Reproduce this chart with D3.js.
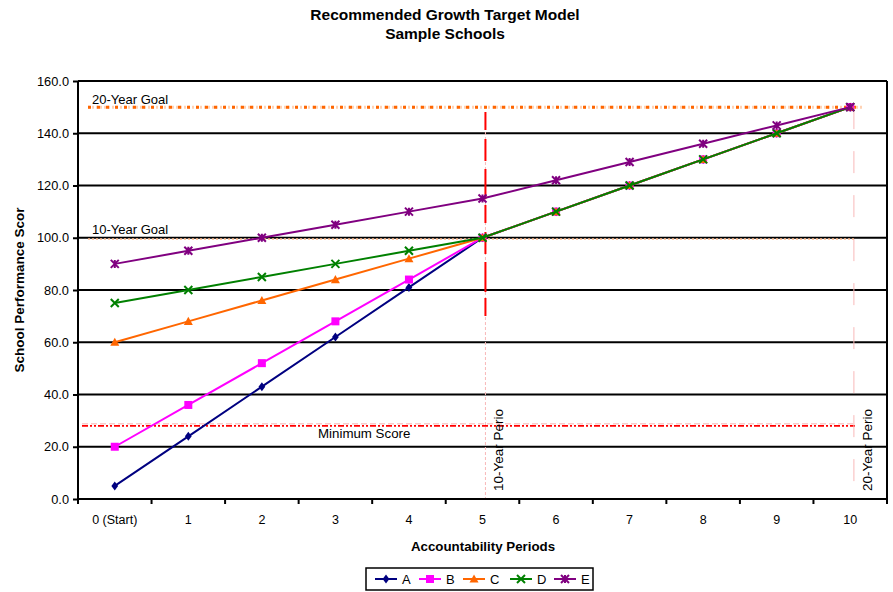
<!DOCTYPE html>
<html>
<head>
<meta charset="utf-8">
<script src="https://cdn.jsdelivr.net/npm/d3@7/dist/d3.min.js"></script>
<style>
  body { margin: 0; background: #fff; }
  svg { display: block; }
  svg text { font-family: "Liberation Sans", Arial, sans-serif; }
</style>
</head>
<body>
<svg id="chart" width="893" height="592" font-family="Liberation Sans, Arial, sans-serif"></svg>
<script>
// Accountability periods (x categories)
const categories = ["0 (Start)", "1", "2", "3", "4", "5", "6", "7", "8", "9", "10"];

// School performance scores per period
const seriesA = [5, 24, 43, 62, 81, 100, 110, 120, 130, 140, 150];
const seriesB = [20, 36, 52, 68, 84, 100, 110, 120, 130, 140, 150];
const seriesC = [60, 68, 76, 84, 92, 100, 110, 120, 130, 140, 150];
const seriesD = [75, 80, 85, 90, 95, 100, 110, 120, 130, 140, 150];
const seriesE = [90, 95, 100, 105, 110, 115, 122, 129, 136, 143, 150];

const seriesNames = ["A", "B", "C", "D", "E"];
const seriesColors = ["#000080", "#ff00ff", "#ff6600", "#008000", "#800080"];
const seriesSymbols = ["diamond", "square", "triangle", "x", "star"];

const yTicks = [0, 20, 40, 60, 80, 100, 120, 140, 160];

// Reference levels
const goal20 = 150, goal10 = 99.5, minimumScore = 28;
const period10 = 5.04, period20 = 10.05;

const svg = d3.select("#chart");
const L = 78, R = 887, T = 81, B = 499;
const FONT = "Liberation Sans, Arial, sans-serif";

const x = d3.scaleBand().domain(categories).range([L, R]).padding(0);
const cx = c => x(c) + x.bandwidth() / 2;
const xi = d3.scaleLinear().domain([0, 10]).range([cx(categories[0]), cx(categories[10])]);
const y = d3.scaleLinear().domain([0, 160]).range([B, T]);

// Title
svg.append("text").attr("x", 445).attr("y", 20).attr("text-anchor", "middle")
  .attr("font-size", 15.5).attr("font-weight", "bold").text("Recommended Growth Target Model");
svg.append("text").attr("x", 445).attr("y", 39).attr("text-anchor", "middle")
  .attr("font-size", 15.5).attr("font-weight", "bold").text("Sample Schools");

// Horizontal gridlines
svg.append("g").selectAll("line").data(yTicks.filter(d => d > 0)).join("line")
  .attr("x1", L).attr("x2", R).attr("y1", d => y(d)).attr("y2", d => y(d))
  .attr("stroke", "#000").attr("stroke-width", 2);

// Right border
svg.append("line").attr("x1", R).attr("x2", R).attr("y1", T).attr("y2", B)
  .attr("stroke", "#000").attr("stroke-width", 2);

// Goal lines
svg.append("line").attr("x1", 88).attr("x2", 862).attr("y1", y(goal20)).attr("y2", y(goal20))
  .attr("stroke", "#ffd2b4").attr("stroke-width", 3).attr("stroke-dasharray", "2,2");
svg.append("line").attr("x1", 88).attr("x2", 862).attr("y1", y(goal20)).attr("y2", y(goal20))
  .attr("stroke", "#ff6600").attr("stroke-width", 3).attr("stroke-dasharray", "3,6");
svg.append("line").attr("x1", 88).attr("x2", 855).attr("y1", y(goal10)).attr("y2", y(goal10))
  .attr("stroke", "#ffb98c").attr("stroke-width", 1.5).attr("stroke-dasharray", "2,2");

svg.append("text").attr("x", 92).attr("y", y(goal20) - 3).attr("font-size", 13).text("20-Year Goal");
svg.append("text").attr("x", 92).attr("y", y(goal10) - 5).attr("font-size", 13).text("10-Year Goal");

// Minimum score line
svg.append("line").attr("x1", 82).attr("x2", 855).attr("y1", y(minimumScore) - 2).attr("y2", y(minimumScore) - 2)
  .attr("stroke", "#f8b0b0").attr("stroke-width", 1).attr("stroke-dasharray", "6,3");
svg.append("line").attr("x1", 82).attr("x2", 855).attr("y1", y(minimumScore)).attr("y2", y(minimumScore))
  .attr("stroke", "#ff0000").attr("stroke-width", 1.6).attr("stroke-dasharray", "6,2,2,2,2,2");
svg.append("text").attr("x", 318).attr("y", y(minimumScore) + 12).attr("font-size", 13.3).text("Minimum Score");

// Period lines
svg.append("line").attr("x1", xi(period10)).attr("x2", xi(period10)).attr("y1", 112).attr("y2", B)
  .attr("stroke", "#f8b8b8").attr("stroke-width", 1).attr("stroke-dasharray", "3,2");
svg.append("line").attr("x1", xi(period10)).attr("x2", xi(period10)).attr("y1", 112).attr("y2", 318)
  .attr("stroke", "#ff0000").attr("stroke-width", 2).attr("stroke-dasharray", "18,9,22,8,30,6");
svg.append("line").attr("x1", xi(period20)).attr("x2", xi(period20)).attr("y1", y(goal20)).attr("y2", B)
  .attr("stroke", "#f8b8b8").attr("stroke-width", 1).attr("stroke-dasharray", "22,22");

svg.append("text").attr("transform", `translate(${xi(period10) + 18},491) rotate(-90)`)
  .attr("font-size", 13.5).text("10-Year Perio");
svg.append("text").attr("transform", `translate(${xi(period20) + 18},491) rotate(-90)`)
  .attr("font-size", 13.5).text("20-Year Perio");

// Axes
const yAxis = svg.append("g").attr("transform", `translate(${L},0)`)
  .call(d3.axisLeft(y).tickValues(yTicks).tickFormat(d3.format(".1f")).tickSize(5).tickPadding(4));
yAxis.attr("font-family", FONT);
yAxis.select(".domain").attr("stroke-width", 2).attr("d", `M0,${T}V${B}`);
yAxis.selectAll(".tick line").attr("stroke-width", 2);
yAxis.selectAll("text").attr("font-size", 12.8).attr("fill", "#000");

const xAxis = svg.append("g").attr("transform", `translate(0,${B})`)
  .call(d3.axisBottom(x).tickSize(0).tickPadding(16));
xAxis.attr("font-family", FONT);
xAxis.select(".domain").attr("stroke-width", 2).attr("d", `M${L},0H${R}`);
xAxis.selectAll("text").attr("font-size", 12.5).attr("fill", "#000");
// boundary ticks between categories
xAxis.append("g").selectAll("line").data(categories.concat([null])).join("line")
  .attr("x1", (d, i) => L + i * x.bandwidth()).attr("x2", (d, i) => L + i * x.bandwidth())
  .attr("y1", 0).attr("y2", 5).attr("stroke", "#000").attr("stroke-width", 2);

svg.append("text").attr("x", 483).attr("y", 551).attr("text-anchor", "middle")
  .attr("font-size", 13.3).attr("font-weight", "bold").text("Accountability Periods");
svg.append("text").attr("transform", `translate(24,290) rotate(-90)`).attr("text-anchor", "middle")
  .attr("font-size", 13.5).attr("font-weight", "bold").text("School Performance Scor");

// Marker drawing
function marker(g, sym, color, size) {
  const s = size;
  if (sym === "diamond") {
    g.append("path").attr("d", `M0,${-s}L${s * 0.75},0L0,${s}L${-s * 0.75},0Z`).attr("fill", color);
  } else if (sym === "square") {
    g.append("rect").attr("x", -s).attr("y", -s).attr("width", 2 * s).attr("height", 2 * s).attr("fill", color);
  } else if (sym === "triangle") {
    g.append("path").attr("d", `M0,${-s}L${s},${s * 0.8}L${-s},${s * 0.8}Z`).attr("fill", color);
  } else if (sym === "x") {
    g.append("path").attr("d", `M${-s},${-s}L${s},${s}M${s},${-s}L${-s},${s}`)
      .attr("stroke", color).attr("stroke-width", 2).attr("fill", "none");
  } else if (sym === "star") {
    g.append("path").attr("d", `M${-s},${-s}L${s},${s}M${s},${-s}L${-s},${s}M0,${-s}V${s}`)
      .attr("stroke", color).attr("stroke-width", 2).attr("fill", "none");
  }
}
const markerSize = { diamond: 4.5, square: 4, triangle: 4.5, x: 4, star: 4 };

const allSeries = [seriesA, seriesB, seriesC, seriesD, seriesE];
const line = d3.line().x((d, i) => cx(categories[i])).y(d => y(d));

allSeries.forEach((vals, k) => {
  svg.append("path").datum(vals).attr("d", line).attr("fill", "none")
    .attr("stroke", seriesColors[k]).attr("stroke-width", 2);
  vals.forEach((v, i) => {
    const g = svg.append("g").attr("transform", `translate(${cx(categories[i])},${y(v)})`);
    marker(g, seriesSymbols[k], seriesColors[k], markerSize[seriesSymbols[k]]);
  });
});

// Legend
const legend = svg.append("g");
legend.append("rect").attr("x", 366).attr("y", 568).attr("width", 227).attr("height", 22)
  .attr("fill", "#fff").attr("stroke", "#000").attr("stroke-width", 1.5);
const legendX = [375, 419, 463, 510, 554];
seriesNames.forEach((n, k) => {
  const lx = legendX[k];
  legend.append("line").attr("x1", lx).attr("x2", lx + 22).attr("y1", 579).attr("y2", 579)
    .attr("stroke", seriesColors[k]).attr("stroke-width", 2);
  const g = legend.append("g").attr("transform", `translate(${lx + 11},579)`);
  marker(g, seriesSymbols[k], seriesColors[k], markerSize[seriesSymbols[k]]);
  legend.append("text").attr("x", lx + 27).attr("y", 584).attr("font-size", 13).text(n);
});
</script>
</body>
</html>
